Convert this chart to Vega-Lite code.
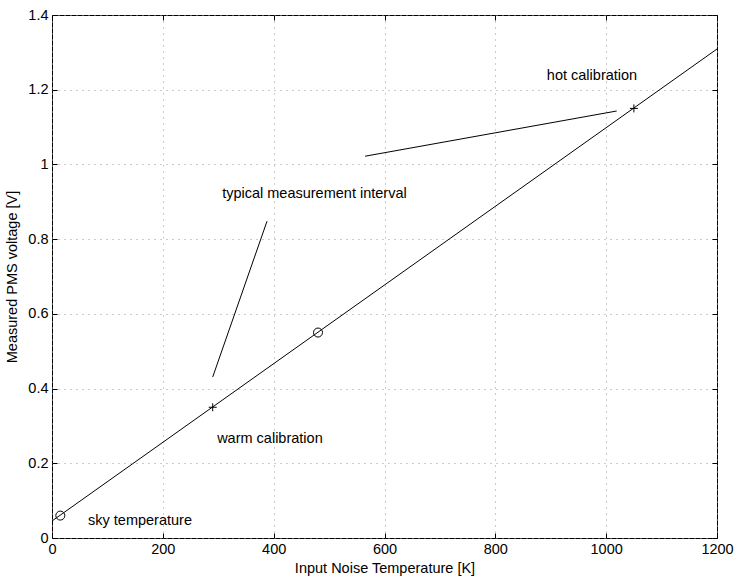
{
  "$schema": "https://vega.github.io/schema/vega-lite/v6.json",
  "width": 665,
  "height": 523,
  "autosize": "none",
  "padding": {"left": 52, "top": 15, "right": 17, "bottom": 42},
  "background": "white",
  "config": {
    "font": "Liberation Sans",
    "view": {"stroke": "black", "strokeWidth": 1},
    "axis": {
      "labelFont": "Liberation Sans",
      "labelFontSize": 14.5,
      "labelColor": "black",
      "titleFont": "Liberation Sans",
      "titleFontSize": 14.5,
      "titleFontWeight": "normal",
      "titleColor": "black",
      "domain": false,
      "tickColor": "black",
      "tickSize": -5,
      "gridColor": "#999",
      "gridDash": [1, 5],
      "gridOpacity": 1,
      "gridWidth": 1
    }
  },
  "datasets": {
    "curve": [
      {"t": 0, "v": 0.0455},
      {"t": 1200, "v": 1.309}
    ],
    "segments": [
      {"t": 290, "v": 0.431, "t2": 388, "v2": 0.848},
      {"t": 565, "v": 1.022, "t2": 1019, "v2": 1.143}
    ],
    "markers": [
      {"t": 15, "v": 0.06, "m": "o"},
      {"t": 480, "v": 0.55, "m": "o"},
      {"t": 290, "v": 0.35, "m": "+"},
      {"t": 1050, "v": 1.15, "m": "+"}
    ],
    "labels": [
      {"t": 893, "v": 1.226, "label": "hot calibration"},
      {"t": 307, "v": 0.91, "label": "typical measurement interval"},
      {"t": 298, "v": 0.254, "label": "warm calibration"},
      {"t": 65, "v": 0.035, "label": "sky temperature"}
    ]
  },
  "resolve": {"axis": {"x": "independent", "y": "independent"}},
  "layer": [
    {
      "data": {"name": "curve"},
      "mark": {"type": "line", "color": "black", "strokeWidth": 1, "clip": true},
      "encoding": {
        "x": {
          "field": "t", "type": "quantitative",
          "scale": {"domain": [0, 1200], "nice": false, "zero": false},
          "axis": {"values": [0, 200, 400, 600, 800, 1000, 1200], "format": "d", "title": "Input Noise Temperature [K]", "grid": true, "labelPadding": 9, "titlePadding": 6, "labelFlush": false}
        },
        "y": {
          "field": "v", "type": "quantitative",
          "scale": {"domain": [0, 1.4], "nice": false, "zero": false},
          "axis": {"values": [0, 0.2, 0.4, 0.6, 0.8, 1, 1.2, 1.4], "format": "~g", "title": "Measured PMS voltage [V]", "grid": true, "labelPadding": 9, "titlePadding": 8, "labelFlush": false}
        }
      }
    },
    {
      "data": {"name": "segments"},
      "mark": {"type": "rule", "color": "black", "strokeWidth": 1},
      "encoding": {
        "x": {
          "field": "t", "type": "quantitative",
          "axis": {"orient": "top", "values": [0, 200, 400, 600, 800, 1000, 1200], "labels": false, "title": null, "grid": false}
        },
        "y": {
          "field": "v", "type": "quantitative",
          "axis": {"orient": "right", "values": [0, 0.2, 0.4, 0.6, 0.8, 1, 1.2, 1.4], "labels": false, "title": null, "grid": false}
        },
        "x2": {"field": "t2"},
        "y2": {"field": "v2"}
      }
    },
    {
      "data": {"name": "markers"},
      "mark": {"type": "point", "filled": false, "color": "black", "strokeWidth": 1, "opacity": 1},
      "encoding": {
        "x": {"field": "t", "type": "quantitative", "axis": null},
        "y": {"field": "v", "type": "quantitative", "axis": null},
        "shape": {
          "field": "m", "type": "nominal",
          "scale": {"domain": ["o", "+"], "range": ["circle", "M-1,0L1,0M0,-1L0,1"]},
          "legend": null
        },
        "size": {
          "field": "m", "type": "nominal",
          "scale": {"domain": ["o", "+"], "range": [81, 64]},
          "legend": null
        }
      }
    },
    {
      "data": {"name": "labels"},
      "mark": {"type": "text", "align": "left", "baseline": "alphabetic", "font": "Liberation Sans", "fontSize": 14.5, "color": "black"},
      "encoding": {
        "x": {"field": "t", "type": "quantitative", "axis": null},
        "y": {"field": "v", "type": "quantitative", "axis": null},
        "text": {"field": "label", "type": "nominal"}
      }
    }
  ]
}
